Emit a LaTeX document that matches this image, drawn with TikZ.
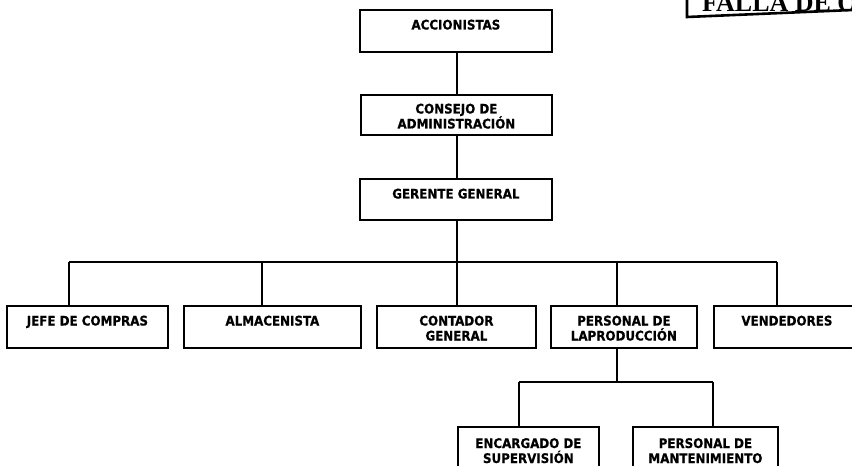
\documentclass[tikz,border=0pt]{standalone}
\usepackage{fontspec}
\setmainfont{DejaVu Sans Condensed}[BoldFeatures={FakeBold=0.6}]
\newfontfamily\stampfont{Liberation Serif}
\begin{document}
\begin{tikzpicture}[x=1pt,y=-1pt,
  orgbox/.style={draw=black,line width=1.8pt,rectangle,inner sep=0pt,anchor=north west},
  orgtxt/.style={font=\bfseries\fontsize{13.2}{15}\selectfont,align=center,inner sep=0pt,anchor=north},
  conn/.style={draw=black,line width=1.8pt}]
\useasboundingbox (0,0) rectangle (852,466);
\fill[white] (0,0) rectangle (852,466);
% stamp
\begin{scope}
  \clip (687,0) rectangle (852,17);
  \node[font=\stampfont\bfseries\fontsize{26}{26}\selectfont,anchor=base west,inner sep=0pt] (stamptxt) at (702,11) {FALLA DE ORIGEN};
\end{scope}
\draw[line width=2.6pt] (687,0) -- (687,17) -- (852,10);
% boxes
\node[orgbox,minimum width=192pt,minimum height=42pt] (acc) at (359,9) {};
\node[orgbox,minimum width=191pt,minimum height=40pt] (con) at (360,94) {};
\node[orgbox,minimum width=192pt,minimum height=41pt] (ger) at (359,178) {};
\node[orgbox,minimum width=161pt,minimum height=42pt] (jefe) at (6,305) {};
\node[orgbox,minimum width=177pt,minimum height=42pt] (alm) at (183,305) {};
\node[orgbox,minimum width=159pt,minimum height=42pt] (cont) at (376,305) {};
\node[orgbox,minimum width=146pt,minimum height=42pt] (prod) at (550,305) {};
\node[orgbox,minimum width=146pt,minimum height=42pt] (vend) at (713,305) {};
\node[orgbox,minimum width=141pt,minimum height=50pt] (enc) at (457,426) {};
\node[orgbox,minimum width=145pt,minimum height=50pt] (man) at (632,426) {};
% texts
\node[orgtxt] (accT) at ([yshift=-10.5pt]acc.north) {ACCIONISTAS};
\node[orgtxt] (conT) at ([yshift=-9.5pt]con.north) {CONSEJO DE\\ADMINISTRACIÓN};
\node[orgtxt] (gerT) at ([yshift=-10.5pt]ger.north) {GERENTE GENERAL};
\node[orgtxt] (jefeT) at ([yshift=-10.5pt]jefe.north) {JEFE DE COMPRAS};
\node[orgtxt] (almT) at ([yshift=-10.5pt]alm.north) {ALMACENISTA};
\node[orgtxt] (contT) at ([yshift=-10.5pt]cont.north) {CONTADOR\\GENERAL};
\node[orgtxt] (prodT) at ([yshift=-10.5pt]prod.north) {PERSONAL DE\\LAPRODUCCIÓN};
\node[orgtxt] (vendT) at ([yshift=-10.5pt]vend.north) {VENDEDORES};
\node[orgtxt] (encT) at ([yshift=-12pt]enc.north) {ENCARGADO DE\\SUPERVISIÓN};
\node[orgtxt] (manT) at ([yshift=-12pt]man.north) {PERSONAL DE\\MANTENIMIENTO};
% bus coordinates
\coordinate (b1) at (69,262);
\coordinate (b2) at (262,262);
\coordinate (b3) at (457,262);
\coordinate (b4) at (617,262);
\coordinate (b5) at (777,262);
\coordinate (p0) at (617,382);
\coordinate (p1) at (519,382);
\coordinate (p2) at (713,382);
% connectors
\draw[conn] (acc.south -| b3) -- (con.north -| b3);
\draw[conn] (con.south -| b3) -- (ger.north -| b3);
\draw[conn] (ger.south -| b3) -- (b3);
\draw[conn] (b1) -- (b5);
\draw[conn] (b1) -- (b1 |- jefe.north);
\draw[conn] (b2) -- (b2 |- alm.north);
\draw[conn] (b3) -- (b3 |- cont.north);
\draw[conn] (b4) -- (b4 |- prod.north);
\draw[conn] (b5) -- (b5 |- vend.north);
\draw[conn] (prod.south -| p0) -- (p0);
\draw[conn] (p1) -- (p2);
\draw[conn] (p1) -- (p1 |- enc.north);
\draw[conn] (p2) -- (p2 |- man.north);
\end{tikzpicture}
\end{document}
